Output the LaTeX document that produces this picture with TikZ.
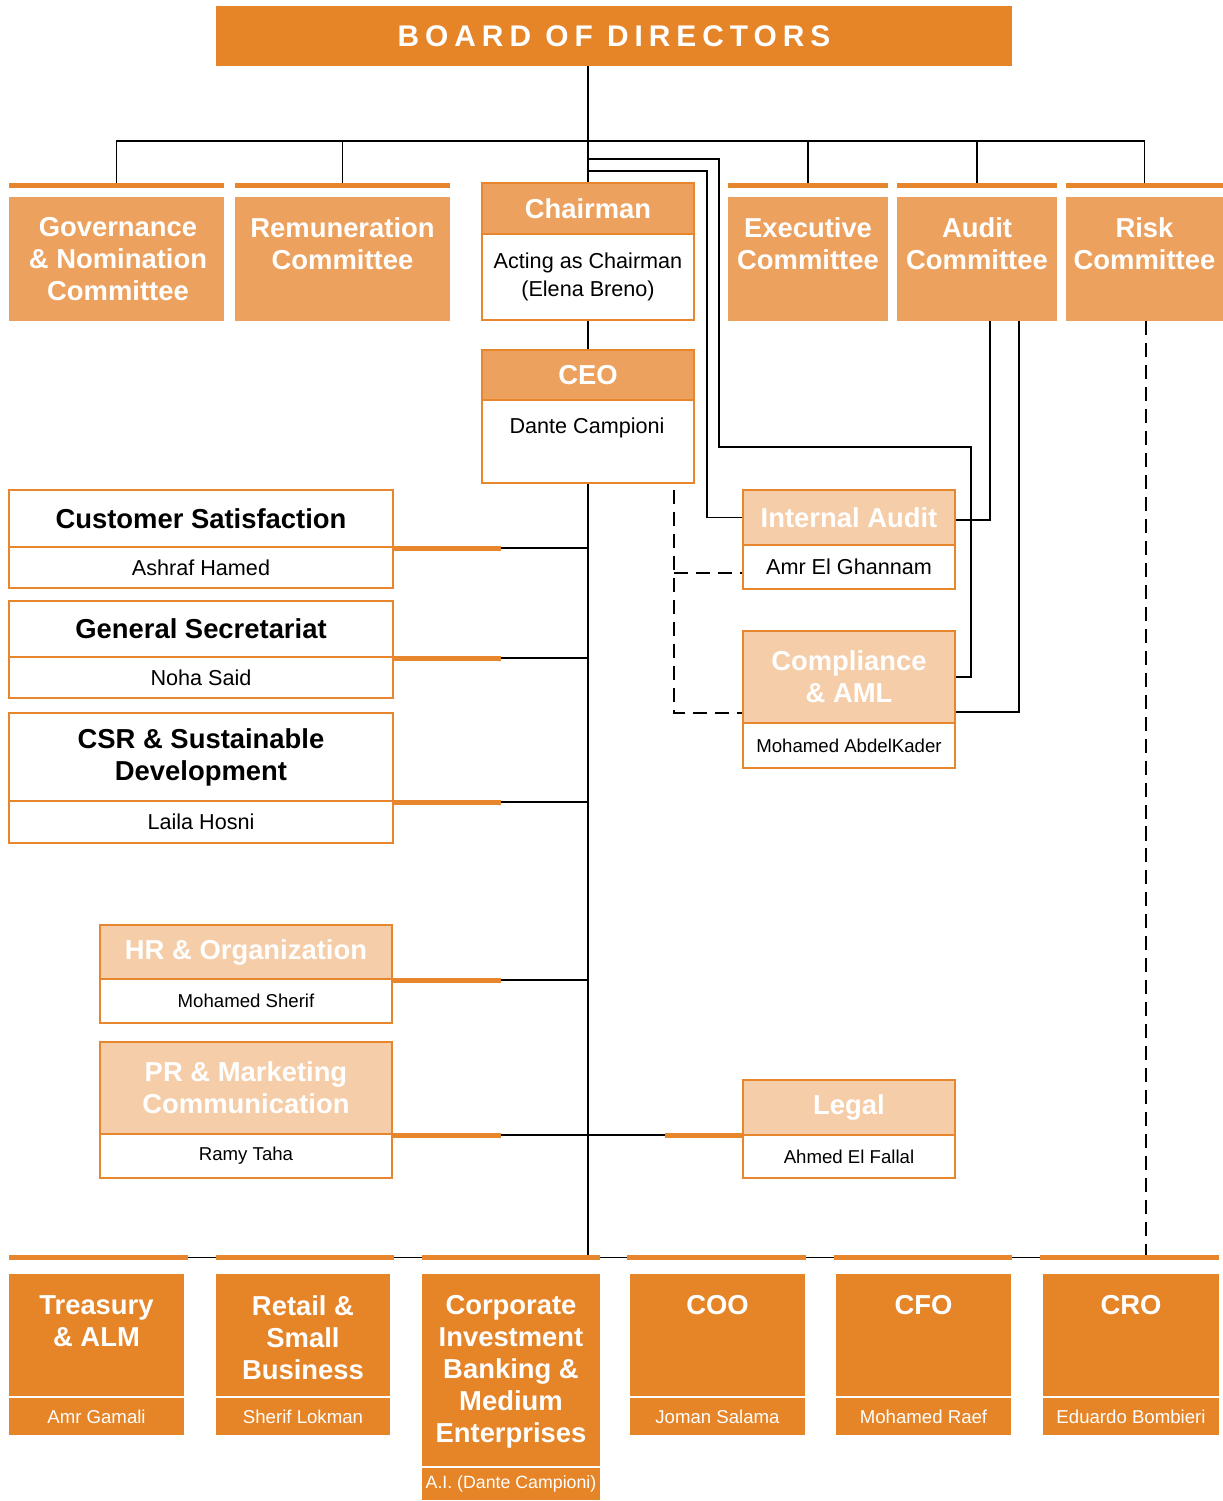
\documentclass[tikz,border=0pt]{standalone}
\usepackage{fontspec}
\setmainfont{Liberation Sans}
\usepackage{tikz}
\usepackage{xcolor}

\definecolor{boardorange}{RGB}{230,132,40}
\definecolor{comorange}{RGB}{237,161,94}
\definecolor{peach}{RGB}{245,205,168}
\definecolor{edgeorange}{RGB}{232,134,45}

\newcommand{\titlesize}{\fontsize{15.6}{18.2}\selectfont\bfseries}
\newcommand{\namesize}{\fontsize{12.3}{16}\selectfont}
\newcommand{\smallname}{\fontsize{10.6}{13}\selectfont}

\begin{document}
\begin{tikzpicture}[x=0.02cm, y=-0.02cm,
    link/.style={black, line width=1pt},
    dashlink/.style={black, line width=1pt, dash pattern=on 8pt off 4.5pt},
    stub/.style={edgeorange, line width=2.8pt},
    bar/.style={fill=edgeorange, inner sep=0pt, minimum height=0.1cm},
    board/.style={fill=boardorange, inner sep=0pt, text=white, font=\fontsize{17}{20}\selectfont\bfseries},
    combox/.style={fill=comorange, inner sep=0pt, minimum height=2.48cm},
    comtext/.style={white, align=center, inner sep=0pt, anchor=north, font=\titlesize},
    hdr/.style={draw=edgeorange, line width=1.4pt, fill=peach, inner sep=0pt, align=center, text=white, font=\titlesize},
    plainhdr/.style={hdr, fill=white, text=black},
    body/.style={draw=edgeorange, line width=1.4pt, fill=white, inner sep=0pt, align=center, font=\namesize},
    smallbody/.style={body, font=\smallname},
    unitbox/.style={fill=boardorange, inner sep=0pt},
    unitname/.style={fill=boardorange, inner sep=0pt, text=white, font=\smallname}]
    \useasboundingbox (0,0) rectangle (1223,1501);

    % board
    \node[board, minimum width=15.92cm, minimum height=1.2cm] (board) at (614,36) {\addfontfeature{LetterSpace=20}BOARD OF DIRECTORS};

    % committees
    \node[bar, minimum width=4.3cm] (govBar) at (116.5,185.5) {};
    \node[combox, minimum width=4.3cm] (gov) at (116.5,259) {};
    \node[comtext] (govT) at (118,217) {Governance\\\& Nomination\\Committee};
    \node[bar, minimum width=4.3cm] (remBar) at (342.5,185.5) {};
    \node[combox, minimum width=4.3cm] (rem) at (342.5,259) {};
    \node[comtext] (remT) at (342.5,217) {Remuneration\\Committee};
    \node[bar, minimum width=3.2cm] (exeBar) at (808,185.5) {};
    \node[combox, minimum width=3.2cm] (exe) at (808,259) {};
    \node[comtext] (exeT) at (808,217) {Executive\\Committee};
    \node[bar, minimum width=3.2cm] (audBar) at (977,185.5) {};
    \node[combox, minimum width=3.2cm] (aud) at (977,259) {};
    \node[comtext] (audT) at (977,217) {Audit\\Committee};
    \node[bar, minimum width=3.14cm] (riskBar) at (1144.5,185.5) {};
    \node[combox, minimum width=3.14cm] (risk) at (1144.5,259) {};
    \node[comtext] (riskT) at (1144.5,217) {Risk\\Committee};

    % chairman and ceo
    \node[hdr, fill=comorange, minimum width=4.24cm, minimum height=1.02cm] (chairH) at (588,208.5) {Chairman};
    \node[body, minimum width=4.24cm, minimum height=1.72cm] (chairB) at (588,277) {Acting as Chairman\\(Elena Breno)};
    \node[hdr, fill=comorange, minimum width=4.24cm, minimum height=1cm] (ceoH) at (588,375) {CEO};
    \node[body, minimum width=4.24cm, minimum height=1.66cm] (ceoB) at (588,441.5) {};
    \node[font=\namesize, inner sep=0pt] (ceoN) at (587,428) {Dante Campioni};

    % audit and compliance
    \node[hdr, minimum width=4.24cm, minimum height=1.1cm] (iaH) at (849,517.5) {Internal Audit};
    \node[body, minimum width=4.24cm, minimum height=0.88cm] (iaB) at (849,567) {Amr El Ghannam};
    \node[hdr, minimum width=4.24cm, minimum height=1.84cm] (compH) at (849,677) {Compliance\\\& AML};
    \node[smallbody, minimum width=4.24cm, minimum height=0.9cm] (compB) at (849,745.5) {Mohamed AbdelKader};

    % staff functions
    \node[plainhdr, minimum width=7.68cm, minimum height=1.14cm] (csH) at (201,518.5) {Customer Satisfaction};
    \node[body, minimum width=7.68cm, minimum height=0.82cm] (csB) at (201,567.5) {Ashraf Hamed};
    \node[plainhdr, minimum width=7.68cm, minimum height=1.12cm] (gsH) at (201,629) {General Secretariat};
    \node[body, minimum width=7.68cm, minimum height=0.82cm] (gsB) at (201,677.5) {Noha Said};
    \node[plainhdr, minimum width=7.68cm, minimum height=1.76cm] (csrH) at (201,757) {CSR \& Sustainable\\Development};
    \node[body, minimum width=7.68cm, minimum height=0.84cm] (csrB) at (201,822) {Laila Hosni};
    \node[hdr, minimum width=5.84cm, minimum height=1.08cm] (hrH) at (246,952) {HR \& Organization};
    \node[smallbody, minimum width=5.84cm, minimum height=0.88cm] (hrB) at (246,1001) {Mohamed Sherif};
    \node[hdr, minimum width=5.84cm, minimum height=1.84cm] (prH) at (246,1088) {PR \& Marketing\\Communication};
    \node[smallbody, minimum width=5.84cm, minimum height=0.88cm] (prB) at (246,1156) {Ramy Taha};
    \node[hdr, minimum width=4.24cm, minimum height=1.1cm] (lgH) at (849,1107.5) {Legal};
    \node[smallbody, minimum width=4.24cm, minimum height=0.86cm] (lgB) at (849,1156.5) {Ahmed El Fallal};

    % business units
    \draw[link] (9,1257.5) -- (1219,1257.5);
    \node[bar, minimum width=3.58cm] (treBar) at (98.5,1257.5) {};
    \node[bar, minimum width=3.56cm] (retBar) at (305,1257.5) {};
    \node[bar, minimum width=3.56cm] (corpBar) at (511,1257.5) {};
    \node[bar, minimum width=3.58cm] (cooBar) at (716.5,1257.5) {};
    \node[bar, minimum width=3.56cm] (cfoBar) at (923,1257.5) {};
    \node[bar, minimum width=3.58cm] (croBar) at (1129.5,1257.5) {};
    \node[unitbox, minimum width=3.5cm, minimum height=2.44cm] (tre) at (96.5,1335) {};
    \node[unitname, minimum width=3.5cm, minimum height=0.74cm] (treN) at (96.5,1416.5) {Amr Gamali};
    \node[comtext] (treT) at (96.5,1295) {Treasury\\\& ALM};
    \node[unitbox, minimum width=3.48cm, minimum height=2.44cm] (ret) at (303,1335) {};
    \node[unitname, minimum width=3.48cm, minimum height=0.74cm] (retN) at (303,1416.5) {Sherif Lokman};
    \node[comtext] (retT) at (303,1295) {Retail \&\\Small\\Business};
    \node[unitbox, minimum width=3.56cm, minimum height=3.84cm] (corp) at (511,1370) {};
    \node[unitname, minimum width=3.56cm, minimum height=0.64cm, font=\fontsize{10.1}{12}\selectfont] (corpN) at (511,1484) {A.I. (Dante Campioni)};
    \node[comtext] (corpT) at (511,1295) {Corporate\\Investment\\Banking \&\\Medium\\Enterprises};
    \node[unitbox, minimum width=3.5cm, minimum height=2.44cm] (coo) at (717.5,1335) {};
    \node[unitname, minimum width=3.5cm, minimum height=0.74cm] (cooN) at (717.5,1416.5) {Joman Salama};
    \node[comtext] (cooT) at (717.5,1295) {COO};
    \node[unitbox, minimum width=3.5cm, minimum height=2.44cm] (cfo) at (923.5,1335) {};
    \node[unitname, minimum width=3.5cm, minimum height=0.74cm] (cfoN) at (923.5,1416.5) {Mohamed Raef};
    \node[comtext] (cfoT) at (923.5,1295) {CFO};
    \node[unitbox, minimum width=3.52cm, minimum height=2.44cm] (cro) at (1131,1335) {};
    \node[unitname, minimum width=3.52cm, minimum height=0.74cm] (croN) at (1131,1416.5) {Eduardo Bombieri};
    \node[comtext] (croT) at (1131,1295) {CRO};

    % reporting lines
    \coordinate (topBus) at (588,141);
    \draw[link] (board.south -| chairH.north) -- (chairH.north);
    \draw[link] (govBar.north) |- (topBus) -| (riskBar.north);
    \draw[link] (remBar.north) -- (remBar.north |- topBus);
    \draw[link] (exeBar.north) -- (exeBar.north |- topBus);
    \draw[link] (audBar.north) -- (audBar.north |- topBus);
    \draw[link] (chairB.south) -- (ceoH.north);
    \draw[link] (ceoB.south) -- (ceoB.south |- corpBar.north);
    \draw[link] (chairH.north |- 0,159) -- (719,159) -- (719,447) -- (971,447) |- (compH.east);
    \draw[link] (chairH.north |- 0,171) -- (707,171) |- (iaH.west);
    \coordinate (audL) at (990,321);
    \coordinate (audR) at (1019,321);
    \draw[link] (audL) |- ([yshift=-0.05cm]iaH.east);
    \draw[link] (audR) |- ([yshift=-0.7cm]compH.east);
    \coordinate (ceoDash) at (674,490);
    \draw[dashlink] (ceoDash) |- ([yshift=-0.72cm]compH.west);
    \draw[dashlink] (ceoDash |- 0,573) -- (iaB.west |- 0,573);
    \draw[dashlink] (risk.south -| 1146,0) -- (croBar.north -| 1146,0);

    % staff links
    \draw[stub] (csH.south east) -- ++(107,0) coordinate (csM);
    \draw[link] (csM) -- (csM -| ceoB.south);
    \draw[stub] (gsH.south east) -- ++(107,0) coordinate (gsM);
    \draw[link] (gsM) -- (gsM -| ceoB.south);
    \draw[stub] (csrH.south east) -- ++(107,0) coordinate (csrM);
    \draw[link] (csrM) -- (csrM -| ceoB.south);
    \draw[stub] (hrH.south east) -- ++(108,0) coordinate (hrM);
    \draw[link] (hrM) -- (hrM -| ceoB.south);
    \draw[stub] (prH.south east) -- ++(108,0) coordinate (prM);
    \draw[stub] (lgH.south west |- prM) -- ++(-77,0) coordinate (lgM);
    \draw[link] (prM) -- (lgM);
\end{tikzpicture}
\end{document}
